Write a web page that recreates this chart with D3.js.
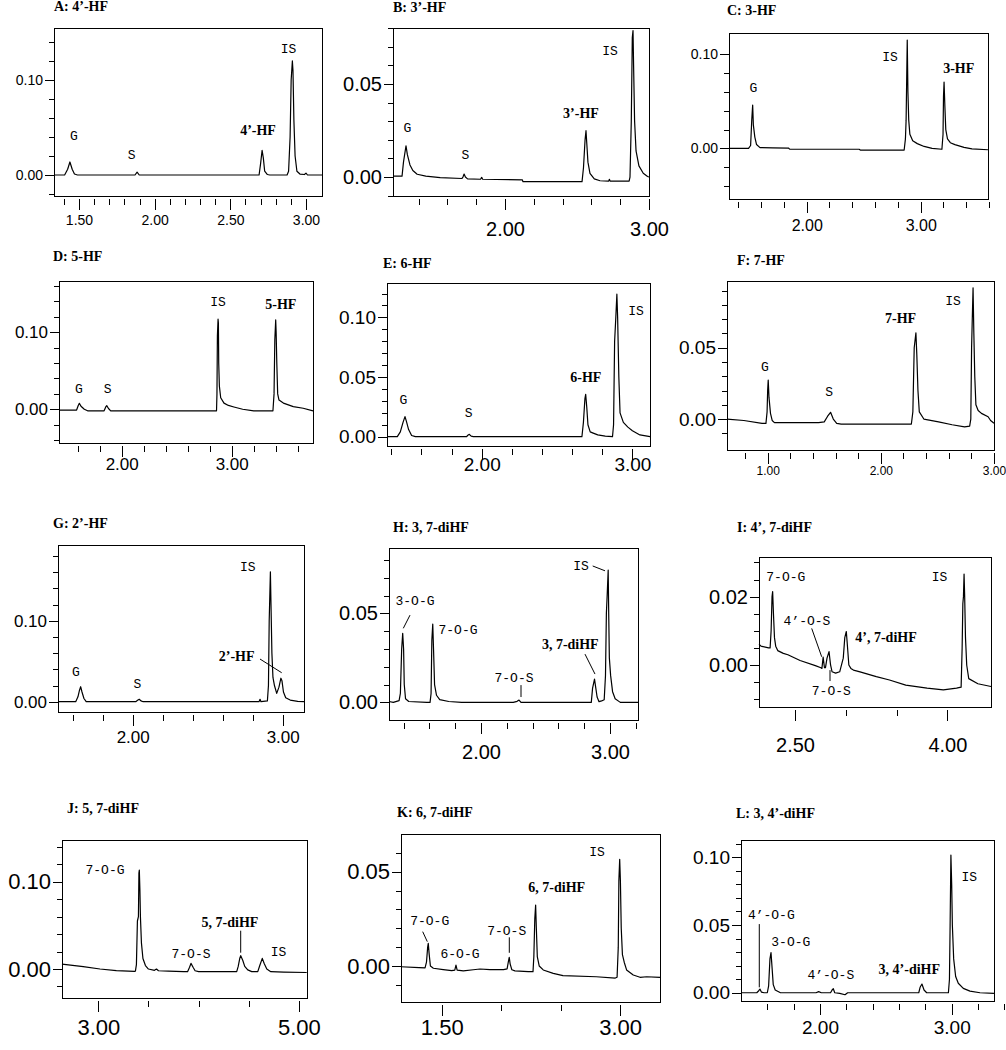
<!DOCTYPE html>
<html>
<head>
<meta charset="utf-8">
<script src="https://cdn.jsdelivr.net/npm/d3@7"></script>
<style>
  body { margin: 0; background: #fff; }
  .title { font-family: "Liberation Serif", serif; font-weight: bold; font-size: 14px; }
  .note { font-family: "Liberation Mono", monospace; font-size: 13px; }
  .note.parent { font-family: "Liberation Serif", serif; font-weight: bold; font-size: 14px; }
  .tick text { font-family: "Liberation Sans", Arial, sans-serif; fill: #000; }
  .tick line, .frame { shape-rendering: crispEdges; }
</style>
</head>
<body>
<div id="fig"></div>
<script>
// panel titles
var titles = ["A: 4’-HF", "B: 3’-HF", "C: 3-HF", "D: 5-HF", "E: 6-HF", "F: 7-HF",
  "G: 2’-HF", "H: 3, 7-diHF", "I: 4’, 7-diHF", "J: 5, 7-diHF", "K: 6, 7-diHF", "L: 3, 4’-diHF"];

// chromatogram traces, [retention time (min), absorbance]
var traceA = [[1.335,0],[1.405,0],[1.425,0.006],[1.44,0.0137],[1.455,0.006],[1.47,0.001],[1.49,0],[1.87,0],[1.884,0.003],[1.898,0],
  [2.69,0],[2.70,0.012],[2.71,0.026],[2.718,0.018],[2.727,0.004],[2.745,0.0005],[2.76,0],[2.875,0],[2.885,0.004],[2.895,0.04],
  [2.902,0.1],[2.91,0.12],[2.914,0.11],[2.92,0.058],[2.928,0.02],[2.94,0.004],[2.96,0.001],[2.99,0.0005],[3.0,0.002],[3.01,0],[3.106,0]];
var traceB = [[1.222,0.0005],[1.285,0.0005],[1.295,0.008],[1.3125,0.0168],[1.322,0.012],[1.34,0.0065],[1.36,0.0035],[1.39,0.0015],
  [1.45,0.0005],[1.55,-0.0003],[1.70,-0.0008],[1.708,0],[1.716,0.0016],[1.725,0],[1.74,-0.001],[1.83,-0.0012],[1.838,-0.0002],
  [1.845,-0.0012],[2.12,-0.0015],[2.125,-0.0025],[2.535,-0.0025],[2.545,0.005],[2.556,0.02],[2.5625,0.0249],[2.568,0.018],
  [2.576,0.008],[2.59,0.002],[2.62,-0.001],[2.66,-0.002],[2.72,-0.0022],[2.725,-0.0012],[2.73,-0.0022],[2.862,-0.0022],
  [2.868,0],[2.877,0.03],[2.884,0.075],[2.889,0.0787],[2.893,0.06],[2.9,0.03],[2.91,0.014],[2.93,0.006],[2.96,0.002],[2.99,0.0003],[3.0,0]];
var traceC = [[1.318,0],[1.49,0],[1.508,0.003],[1.518,0.03],[1.526,0.046],[1.532,0.025],[1.545,0.012],[1.56,0.004],[1.59,0.0008],
  [1.70,0.0005],[1.84,0.0003],[1.85,-0.0008],[2.46,-0.001],[2.47,-0.0018],[2.855,-0.0018],[2.866,0.01],[2.872,0.03],[2.882,0.1152],
  [2.888,0.06],[2.895,0.03],[2.905,0.015],[2.93,0.008],[2.97,0.005],[3.03,0.002],[3.10,0],[3.186,-0.001],[3.196,0.015],[3.2,0.055],
  [3.205,0.0705],[3.212,0.045],[3.22,0.02],[3.235,0.01],[3.26,0.006],[3.30,0.004],[3.38,0.001],[3.45,-0.0005],[3.59,-0.0015]];
var traceD = [[1.43,-0.001],[1.59,-0.001],[1.605,0.005],[1.615,0.0078],[1.63,0.004],[1.66,0],[1.69,-0.002],[1.84,-0.002],[1.855,0.003],
  [1.864,0.0047],[1.88,0.001],[1.90,-0.002],[2.862,-0.002],[2.866,0.02],[2.87,0.095],[2.876,0.117],[2.879,0.112],[2.882,0.06],
  [2.888,0.03],[2.9,0.015],[2.93,0.008],[2.97,0.005],[3.02,0.003],[3.1,0],[3.2,-0.002],[3.375,-0.002],[3.385,0.02],[3.392,0.09],
  [3.40,0.116],[3.404,0.1],[3.41,0.06],[3.418,0.02],[3.43,0.012],[3.47,0.008],[3.56,0.0035],[3.65,0.0013],[3.739,-0.002]];
var traceE = [[1.372,0],[1.44,0],[1.46,0.004],[1.478,0.012],[1.491,0.0168],[1.50,0.013],[1.515,0.006],[1.535,0.001],[1.56,0],[1.90,0],
  [1.908,0.0012],[1.918,0.002],[1.93,0.0005],[1.945,0],[2.665,0],[2.675,0.012],[2.685,0.032],[2.69,0.0355],[2.697,0.025],[2.705,0.01],
  [2.72,0.004],[2.74,0.003],[2.77,0.0015],[2.82,0.0005],[2.868,0],[2.875,0.01],[2.882,0.08],[2.89,0.1],[2.897,0.1194],[2.902,0.1],
  [2.91,0.05],[2.918,0.02],[2.94,0.012],[2.97,0.008],[3.0,0.005],[3.05,0.0015],[3.117,0]];
var traceF = [[0.641,0],[0.79,-0.001],[0.95,-0.003],[0.985,-0.003],[0.995,0.005],[1.0,0.02],[1.005,0.0273],[1.012,0.015],[1.025,0.004],
  [1.04,-0.001],[1.06,-0.0025],[1.45,-0.0025],[1.50,-0.002],[1.53,0.002],[1.556,0.0047],[1.58,0],[1.61,-0.003],[1.65,-0.0035],
  [2.27,-0.0035],[2.283,0.005],[2.295,0.05],[2.31,0.0605],[2.318,0.045],[2.328,0.02],[2.34,0.005],[2.38,0],[2.51,-0.002],
  [2.63,-0.004],[2.74,-0.0055],[2.785,-0.005],[2.795,0],[2.802,0.05],[2.808,0.07],[2.815,0.092],[2.822,0.06],[2.83,0.03],
  [2.84,0.01],[2.86,0.006],[2.889,0.004],[2.948,0.0016],[2.97,-0.001],[3.0,-0.003]];
var traceG = [[1.502,0],[1.62,0],[1.635,0.006],[1.645,0.014],[1.653,0.0185],[1.662,0.012],[1.675,0.004],[1.69,0],[2.02,0],[2.035,0.002],
  [2.044,0.003],[2.055,0.001],[2.07,0],[2.842,0],[2.849,0.003],[2.855,0],[2.898,0.001],[2.905,0.02],[2.91,0.1],[2.918,0.1605],
  [2.922,0.12],[2.928,0.06],[2.935,0.03],[2.945,0.02],[2.96,0.0103],[2.975,0.018],[2.988,0.029],[2.995,0.026],[3.005,0.012],
  [3.02,0.005],[3.05,0.002],[3.1,0.0005],[3.142,0]];
var traceH = [[1.287,0.0005],[1.32,0],[1.365,0.001],[1.375,0.005],[1.385,0.03],[1.393,0.0388],[1.40,0.03],[1.405,0.01],[1.415,0.002],
  [1.44,0.0005],[1.58,0],[1.605,0],[1.613,0.005],[1.619,0.035],[1.626,0.044],[1.632,0.03],[1.64,0.01],[1.655,0.004],[1.68,0.0015],
  [1.75,0.0005],[1.85,0],[2.25,0],[2.28,0.0006],[2.295,0.0013],[2.31,0],[2.855,0],[2.865,0.008],[2.88,0.0131],[2.89,0.008],
  [2.90,0.003],[2.915,0.0004],[2.935,0.0008],[2.955,0.0015],[2.965,0.015],[2.972,0.05],[2.978,0.06],[2.986,0.0743],[2.99,0.05],
  [2.995,0.025],[3.005,0.015],[3.02,0.006],[3.04,0.002],[3.08,0],[3.217,0]];
var traceI = [[2.146,0.0061],[2.165,0.0055],[2.24,0.005],[2.255,0.005],[2.265,0.01],[2.274,0.02],[2.28,0.0215],[2.288,0.015],
  [2.298,0.008],[2.31,0.0055],[2.33,0.0042],[2.385,0.0034],[2.43,0.003],[2.55,0.0013],[2.70,-0.0002],[2.755,-0.0008],[2.765,-0.001],
  [2.777,0.0023],[2.79,-0.0008],[2.80,-0.0008],[2.815,0.002],[2.835,0.0039],[2.85,0],[2.865,-0.002],[2.90,-0.0024],[2.94,-0.002],
  [2.975,0.002],[2.99,0.008],[3.005,0.0098],[3.015,0.006],[3.03,0],[3.05,-0.001],[3.075,-0.0015],[3.14,-0.002],[3.3,-0.0034],
  [3.43,-0.0044],[3.59,-0.0059],[3.8,-0.0068],[3.96,-0.0073],[4.09,-0.0068],[4.135,-0.0065],[4.145,0.005],[4.152,0.018],
  [4.158,0.02],[4.164,0.0266],[4.17,0.02],[4.178,0.008],[4.19,0],[4.21,-0.004],[4.3,-0.0055],[4.429,-0.0063]];
var traceJ = [[2.638,0.0057],[2.85,0.0027],[3.017,0],[3.18,-0.0019],[3.36,-0.0027],[3.37,-0.0025],[3.38,0.005],[3.39,0.055],[3.40,0.06],
  [3.405,0.11],[3.409,0.1134],[3.415,0.09],[3.42,0.06],[3.43,0.03],[3.445,0.012],[3.47,0.004],[3.50,0],[3.56,-0.0015],[3.58,0],
  [3.60,-0.002],[3.70,-0.0025],[3.85,-0.003],[3.89,-0.003],[3.91,0.002],[3.924,0.0065],[3.945,0.002],[3.965,-0.002],[4.0,-0.003],
  [4.38,-0.003],[4.395,0.003],[4.41,0.012],[4.42,0.0153],[4.44,0.01],[4.46,0.003],[4.49,-0.001],[4.53,-0.003],[4.59,-0.003],
  [4.61,0.004],[4.635,0.0122],[4.655,0.006],[4.68,0],[4.72,-0.003],[4.85,-0.0035],[5.078,-0.004]];
var traceK = [[1.158,-0.0004],[1.31,-0.0009],[1.36,-0.001],[1.372,0.002],[1.382,0.01],[1.387,0.012],[1.395,0.006],[1.405,0],
  [1.43,-0.0012],[1.513,-0.0019],[1.584,-0.0025],[1.61,-0.0022],[1.62,0.0005],[1.63,-0.0022],[1.682,-0.0026],[1.766,-0.002],
  [1.822,-0.0016],[1.906,-0.0019],[2.02,-0.0019],[2.05,-0.0015],[2.06,0.002],[2.068,0.0046],[2.076,0.001],[2.09,-0.002],
  [2.116,-0.0026],[2.228,-0.003],[2.268,-0.003],[2.275,0.005],[2.283,0.025],[2.29,0.0323],[2.296,0.02],[2.304,0.005],[2.32,0],
  [2.354,-0.0021],[2.438,-0.0039],[2.52,-0.0051],[2.8,-0.0057],[2.96,-0.0064],[2.975,-0.006],[2.985,0.01],[2.99,0.045],
  [2.997,0.0566],[3.003,0.045],[3.01,0.02],[3.02,0.006],[3.035,0.002],[3.055,-0.0021],[3.111,-0.0048],[3.168,-0.006],
  [3.224,-0.0057],[3.336,-0.006]];
var traceL = [[1.4,0],[1.52,0],[1.535,0.0015],[1.544,0.0027],[1.555,0.0005],[1.575,0],[1.60,0],[1.61,0.005],[1.62,0.025],[1.628,0.0296],
  [1.635,0.02],[1.645,0.006],[1.66,0.002],[1.70,0],[1.97,0],[1.99,0.0008],[2.01,0],[2.08,0],[2.095,0.0025],[2.101,0.003],[2.112,0],
  [2.15,-0.0005],[2.19,-0.0015],[2.21,0],[2.75,0],[2.76,0.004],[2.774,0.0064],[2.79,0.002],[2.81,0],[2.975,0],[2.983,0.01],
  [2.988,0.05],[2.994,0.1017],[3.0,0.08],[3.005,0.05],[3.015,0.025],[3.03,0.012],[3.05,0.007],[3.088,0.0032],[3.139,0.0012],
  [3.215,0],[3.321,-0.0005]];
var traces = [traceA, traceB, traceC, traceD, traceE, traceF, traceG, traceH, traceI, traceJ, traceK, traceL];

// labelled ticks
var xLabelTicks = [[1.5,2,2.5,3],[2,3],[2,3],[2,3],[2,3],[1,2,3],[2,3],[2,3],[2.5,4],[3,5],[1.5,3],[2,3]];
var yLabelTicks = [[0,0.1],[0,0.05],[0,0.1],[0,0.1],[0,0.05,0.1],[0,0.05],[0,0.1],[0,0.05],[0,0.02],[0,0.1],[0,0.05],[0,0.05,0.1]];
// all ticks: [first, last, step]
var xAllTicks = [[1.4,3.0,0.1],[1.4,3.0,0.2],[1.4,3.6,0.2],[1.6,3.6,0.2],[1.4,3.0,0.2],[0.8,3.0,0.2],
  [1.6,3.0,0.2],[1.4,3.2,0.2],[2.5,4.0,0.5],[3,5,0.5],[1.5,3,0.5],[1.6,3.4,0.2]];
var yAllTicks = [[-0.02,0.14,0.02],[-0.01,0.08,0.01],[-0.04,0.1,0.02],[-0.04,0.16,0.02],[0,0.12,0.01],[-0.01,0.09,0.01],
  [0,0.18,0.02],[0,0.08,0.01],[-0.01,0.03,0.005],[-0.02,0.14,0.02],[-0.01,0.06,0.01],[0,0.11,0.01]];

// peak labels: [text, time, absorbance, parent compound 1/0]
var notes = [
  [["G",1.467,0.042,0],["S",1.848,0.0221,0],["4’-HF",2.683,0.0474,1],["IS",2.884,0.1334,0]],
  [["G",1.3215,0.0267,0],["S",1.7243,0.0124,0],["3’-HF",2.5278,0.0342,1],["IS",2.7292,0.0683,0]],
  [["G",1.5316,0.0649,0],["IS",2.7307,0.0974,0],["3-HF",3.3333,0.0851,1]],
  [["G",1.6118,0.0264,0],["S",1.8727,0.0264,0],["IS",2.8755,0.1406,0],["5-HF",3.4464,0.1368,1]],
  [["G",1.4798,0.0313,0],["S",1.9137,0.0201,0],["6-HF",2.6908,0.0503,1],["IS",3.0239,0.1056,0]],
  [["G",0.9762,0.0372,0],["S",1.5437,0.0191,0],["7-HF",2.1748,0.0706,1],["IS",2.6381,0.083,0]],
  [["G",1.622,0.037,0],["S",2.0307,0.0227,0],["IS",2.7673,0.1675,0],["2’-HF",2.6933,0.0564,1]],
  [["3-O-G",1.4884,0.0575,0],["7-O-G",1.8217,0.0412,0],["7-O-S",2.2558,0.0142,0],["3, 7-diHF",2.6922,0.0328,1],["IS",2.7752,0.0771,0]],
  [["7-O-G",2.4094,0.0258,0],["4’-O-S",2.6181,0.013,0],["7-O-S",2.8573,-0.0075,0],["4’, 7-diHF",3.3957,0.0083,1],["IS",3.9222,0.0258,0]],
  [["7-O-G",3.0668,0.1145,0],["7-O-S",3.9242,0.0183,0],["5, 7-diHF",4.3131,0.0542,1],["IS",4.7966,0.0198,0]],
  [["7-O-G",1.3991,0.0244,0],["6-O-G",1.6539,0.0064,0],["7-O-S",2.0467,0.0187,0],["6, 7-diHF",2.4672,0.042,1],["IS",2.8061,0.0606,0]],
  [["4’-O-G",1.6302,0.0581,0],["3-O-G",1.7783,0.0377,0],["4’-O-S",2.082,0.0138,0],["3, 4’-diHF",2.678,0.0175,1],["IS",3.1329,0.0862,0]]
];
// leader lines from label to peak: [t1, v1, t2, v2]
var leaders = [[], [], [], [], [], [],
  [[2.8487,0.0527,2.9933,0.0358]],
  [[1.4496,0.049,1.3977,0.0416],[2.3101,0.0097,2.3101,0.003],[2.8062,0.0271,2.8837,0.0159],[2.8659,0.0766,2.9612,0.0739]],
  [[2.6644,0.0107,2.7628,0.0024],[2.8445,-0.0015,2.8445,-0.0047]],
  [[4.4197,0.0439,4.4197,0.0187]],
  [[1.3402,0.0182,1.3789,0.0129],[2.0686,0.0152,2.0686,0.007]],
  [[1.5391,0.0507,1.5391,0.004]]
];

// layout of each panel (pixels)
var panels = [
  {box:[54,28,322,196],  xDom:[1.3348,3.1058], yDom:[-0.0221,0.1547], yfs:14, xfs:14, labelY:220,  title:[54,11]},
  {box:[393,28,649,196], xDom:[1.2222,3.0],    yDom:[-0.0102,0.0801], yfs:20, xfs:20, labelY:229,  title:[393,12]},
  {box:[729,33,988,199], xDom:[1.3184,3.5904], yDom:[-0.0539,0.1227], yfs:14, xfs:16, labelY:225,  title:[727,15]},
  {box:[59,281,313,443], xDom:[1.43,3.7391],   yDom:[-0.0438,0.1666], yfs:17, xfs:17, labelY:464,  title:[53,261]},
  {box:[387,283,650,446],xDom:[1.3716,3.1168], yDom:[-0.0078,0.1288], yfs:19, xfs:19, labelY:464,  title:[383,268]},
  {box:[727,281,994,450],xDom:[0.6408,3.0],    yDom:[-0.0217,0.0968], yfs:19, xfs:12, labelY:471,  title:[737,265]},
  {box:[58,545,304,712], xDom:[1.502,3.142],   yDom:[-0.0127,0.1935], yfs:17, xfs:17, labelY:737,  title:[53,528]},
  {box:[389,548,638,720],xDom:[1.2868,3.2171], yDom:[-0.0099,0.0867], yfs:20, xfs:20, labelY:752,  title:[393,532]},
  {box:[759,557,991,707],xDom:[2.1457,4.4291], yDom:[-0.0123,0.0316], yfs:20, xfs:20, labelY:745,  title:[737,532]},
  {box:[62,840,307,998], xDom:[2.6381,5.0808], yDom:[-0.0332,0.1478], yfs:22, xfs:22, labelY:1027, title:[67,813]},
  {box:[401,834,660,1002],xDom:[1.1577,3.336], yDom:[-0.0191,0.07],   yfs:22, xfs:22, labelY:1027, title:[397,817]},
  {box:[741,840,994,1001],xDom:[1.4002,3.3212],yDom:[-0.0061,0.1128], yfs:19, xfs:19, labelY:1027, title:[736,818]}
];

function tickRange(spec) {
  var n = Math.round((spec[1] - spec[0]) / spec[2]);
  return d3.range(n + 1).map(function (i) { return +(spec[0] + i * spec[2]).toFixed(4); });
}

var svg = d3.select("#fig")
  .append("svg")
  .attr("width", 1006)
  .attr("height", 1050);

var fmt = d3.format(".2f");

panels.forEach(function (p, i) {
  var b = p.box;
  var x = d3.scaleLinear().domain(p.xDom).range([b[0], b[2]]);
  var y = d3.scaleLinear().domain(p.yDom).range([b[3], b[1]]);
  var g = svg.append("g");

  g.append("text")
    .attr("class", "title")
    .attr("x", p.title[0])
    .attr("y", p.title[1])
    .text(titles[i]);

  // y ticks hang off the left side of the frame
  g.append("g")
    .attr("transform", "translate(" + b[0] + ",0)")
    .call(d3.axisLeft(y).tickValues(tickRange(yAllTicks[i])).tickSize(5).tickFormat(""));
  var yMajor = g.append("g")
    .attr("transform", "translate(" + b[0] + ",0)")
    .call(d3.axisLeft(y).tickValues(yLabelTicks[i]).tickSize(9).tickPadding(2).tickFormat(fmt));
  yMajor.selectAll("text").style("font-size", p.yfs + "px");

  // x ticks sit a little below the frame
  var gap = b[3] + 3;
  g.append("g")
    .attr("transform", "translate(0," + gap + ")")
    .call(d3.axisBottom(x).tickValues(tickRange(xAllTicks[i])).tickSize(6).tickFormat(""));
  var xMajor = g.append("g")
    .attr("transform", "translate(0," + gap + ")")
    .call(d3.axisBottom(x).tickValues(xLabelTicks[i]).tickSize(11).tickFormat(fmt));
  xMajor.selectAll("text")
    .attr("y", p.labelY - gap)
    .attr("dy", "0.36em")
    .style("font-size", p.xfs + "px");

  g.selectAll(".domain").remove();

  g.append("rect")
    .attr("class", "frame")
    .attr("x", b[0])
    .attr("y", b[1])
    .attr("width", b[2] - b[0])
    .attr("height", b[3] - b[1])
    .attr("fill", "none")
    .attr("stroke", "#000");

  var line = d3.line()
    .x(function (d) { return x(d[0]); })
    .y(function (d) { return y(d[1]); });

  g.append("path")
    .datum(traces[i])
    .attr("d", line)
    .attr("fill", "none")
    .attr("stroke", "#000")
    .attr("stroke-width", 1.2)
    .attr("stroke-linejoin", "round");

  g.selectAll(".leader")
    .data(leaders[i])
    .enter()
    .append("line")
    .attr("x1", function (d) { return x(d[0]); })
    .attr("y1", function (d) { return y(d[1]); })
    .attr("x2", function (d) { return x(d[2]); })
    .attr("y2", function (d) { return y(d[3]); })
    .attr("stroke", "#000")
    .attr("stroke-width", 1);

  g.selectAll(".note")
    .data(notes[i])
    .enter()
    .append("text")
    .attr("class", function (d) { return d[3] ? "note parent" : "note"; })
    .attr("x", function (d) { return x(d[1]); })
    .attr("y", function (d) { return y(d[2]); })
    .attr("dy", "0.35em")
    .attr("text-anchor", "middle")
    .text(function (d) { return d[0]; });
});
</script>
</body>
</html>
